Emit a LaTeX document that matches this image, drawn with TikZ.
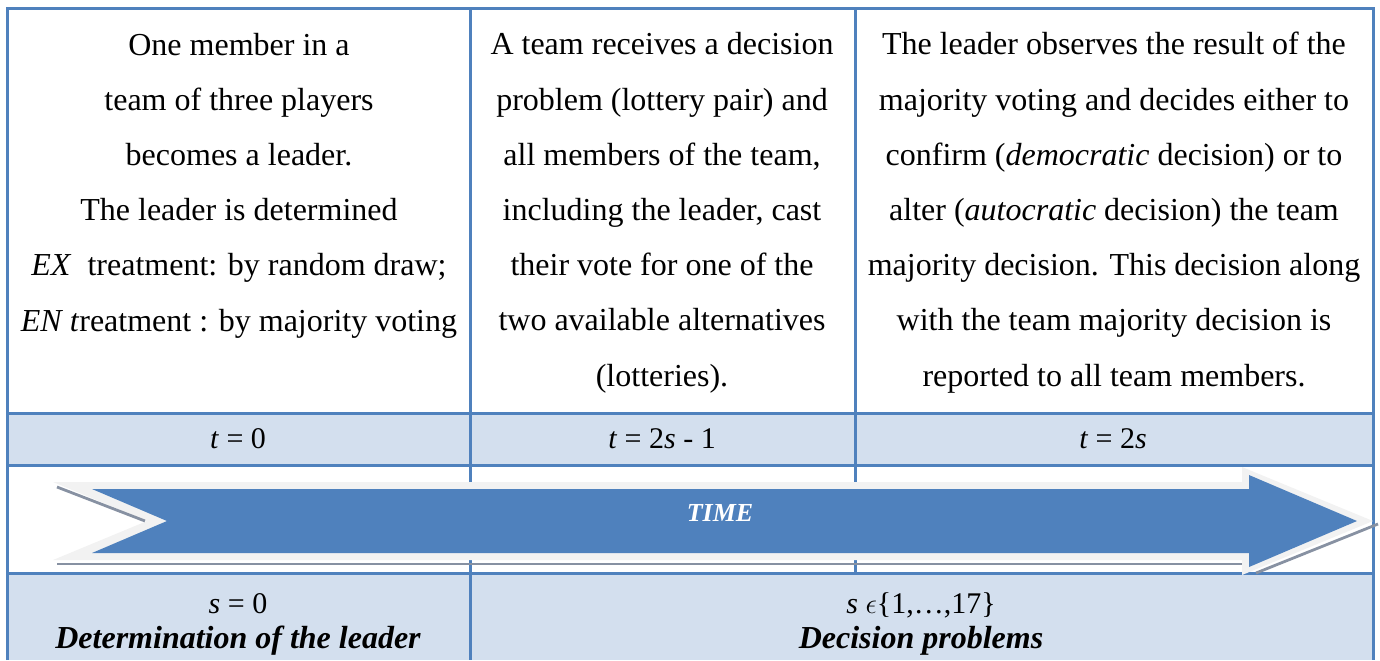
\documentclass[tikz,border=0pt]{standalone}
\usepackage{fontspec}
\setmainfont{Liberation Serif}
\definecolor{tblue}{HTML}{4F81BD}
\definecolor{tfill}{HTML}{D3DFEE}
\definecolor{tgray}{HTML}{F2F2F2}
\definecolor{tshadow}{RGB}{135,145,162}
\tikzset{
  grid/.style={draw=tblue, line width=1.5pt},
  body/.style={anchor=base, align=center, inner sep=0pt, font=\fontsize{16}{27.6}\selectfont},
  tlabel/.style={anchor=base, inner sep=0pt, font=\fontsize{15}{18}\selectfont},
  blabel/.style={anchor=base, inner sep=0pt, font=\fontsize{16}{18}\selectfont\bfseries\itshape},
  timelabel/.style={anchor=base, inner sep=0pt, text=white, font=\fontsize{13}{15}\selectfont\bfseries\itshape},
  shadowline/.style={draw=tshadow, line width=1.4pt}
}
\begin{document}
\begin{tikzpicture}[x=0.5pt,y=-0.5pt]
\useasboundingbox (0,0) rectangle (1380,660);
% row fills
\fill[tfill] (7,413) rectangle (1373,465);
\fill[tfill] (7,573) rectangle (1373,660);
% grid
\draw[grid] (7,660) -- (7,8) -- (1373,8) -- (1373,660);
\draw[grid] (7,413) -- (1373,413);
\draw[grid] (7,465) -- (1373,465);
\draw[grid] (7,573) -- (1373,573);
\draw[grid] (470,8) -- (470,660);
\draw[grid] (855,8) -- (855,573);
% arrow: light outline, shadow, body
\fill[tgray] (53,482) -- (1242,482) -- (1242,467) -- (1373,521) -- (1242,575) -- (1242,560)
  -- (53,560) -- (147,521) -- cycle;
\draw[shadowline] (57,487) -- (145,521);
\draw[shadowline] (57,564) -- (1242,564);
\draw[shadowline] (1256,573) -- (1378,524);
\fill[tblue] (92,489) -- (1249,489) -- (1249,475) -- (1357,521) -- (1249,567) -- (1249,553)
  -- (92,553) -- (167,521) -- cycle;
\node[timelabel] (time) at (720,521) {TIME};
% column texts (base anchor = baseline of the last line)
\node[body] (c1) at (239,331) {One member in a\\team of three players\\becomes a leader.\\The leader is determined\\\textit{EX}\ \ treatment: by random draw;\\\textit{EN t}reatment : by majority voting};
\node[body] (c2) at (662,386) {A team receives a decision\\problem (lottery pair) and\\all members of the team,\\including the leader, cast\\their vote for one of the\\two available alternatives\\(lotteries).};
\node[body] (c3) at (1114,386) {The leader observes the result of the\\majority voting and decides either to\\confirm (\textit{democratic} decision) or to\\alter (\textit{autocratic} decision) the team\\majority decision. This decision along\\with the team majority decision is\\reported to all team members.};
% time row
\node[tlabel] (t0) at (238,448) {\textit{t} = 0};
\node[tlabel] (t1) at (662,448) {\textit{t} = 2\textit{s} - 1};
\node[tlabel] (t2) at (1113,448) {\textit{t} = 2\textit{s}};
% bottom row
\node[tlabel] (s0) at (238,613) {\textit{s} = 0};
\node[blabel] (l0) at (238,648) {Determination of the leader};
\node[tlabel] (s1) at (921,613) {\textit{s} $\epsilon$\{1,…,17\}};
\node[blabel] (l1) at (921,648) {Decision problems};
\end{tikzpicture}
\end{document}
